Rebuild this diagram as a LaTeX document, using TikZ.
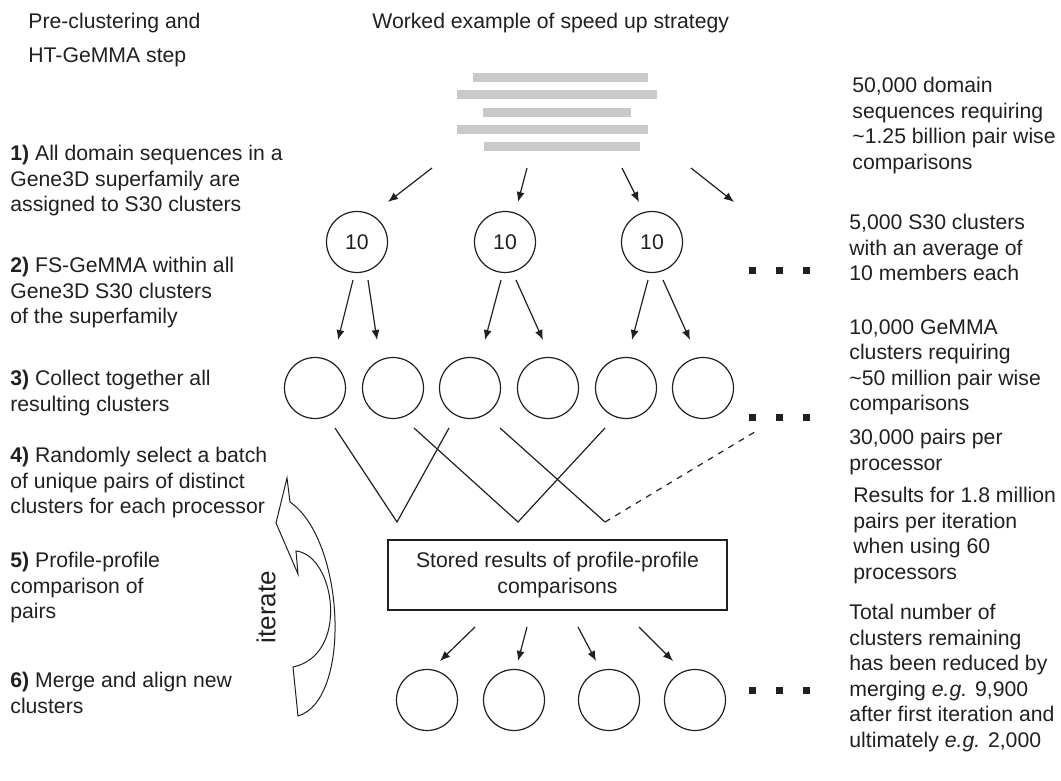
\documentclass[tikz,border=0pt]{standalone}
\usepackage{fontspec}
\setmainfont{Liberation Sans}
\usetikzlibrary{arrows.meta, positioning}
\definecolor{seq_grey}{RGB}{200, 201, 203}
\definecolor{ink_black}{RGB}{35, 31, 32}
\tikzset{
    body_font/.style={
        font=\fontsize{10.6pt}{12.75pt}\selectfont
    },
    step_text/.style={
        body_font,
        anchor=north west,
        inner sep=0pt,
        align=left,
        text=ink_black
    },
    cluster_node/.style={
        circle,
        draw=ink_black,
        line width=0.6pt,
        minimum size=30.5pt,
        inner sep=0pt,
        body_font,
        text=ink_black
    },
    store_node/.style={
        rectangle,
        draw=ink_black,
        line width=0.6pt,
        minimum width=169.5pt,
        minimum height=35pt,
        align=center,
        body_font,
        text=ink_black
    },
    arrow_style/.style={
        -{Latex[length=5pt,width=4pt]},
        line width=0.6pt,
        draw=ink_black
    },
    pair_line/.style={
        line width=0.6pt,
        draw=ink_black
    },
    iterate_arrow/.style={
        draw=ink_black,
        line width=0.5pt,
        fill=white
    }
}

\begin{document}
\begin{tikzpicture}[x=0.5pt, y=-0.5pt]
\useasboundingbox (0,0) rectangle (1061,781);

% Column headings
\node[step_text, font=\fontsize{10.6pt}{17pt}\selectfont] (head_left) at (28,13) {Pre-clustering and\\HT-GeMMA step};
\node[step_text] (head_right) at (372,13) {Worked example of speed up strategy};

% Steps of the method
\node[step_text] (step1) at (10,145) {\textbf{1)} All domain sequences in a\\Gene3D superfamily are\\assigned to S30 clusters};
\node[step_text] (step2) at (10,257) {\textbf{2)} FS-GeMMA within all\\Gene3D S30 clusters\\of the superfamily};
\node[step_text] (step3) at (10,370) {\textbf{3)} Collect together all\\resulting clusters};
\node[step_text] (step4) at (10,447) {\textbf{4)} Randomly select a batch\\of unique pairs of distinct\\clusters for each processor};
\node[step_text] (step5) at (10,552) {\textbf{5)} Profile-profile\\comparison of\\pairs};
\node[step_text] (step6) at (10,672) {\textbf{6)} Merge and align new\\clusters};

% Numbers of the worked example
\node[step_text] (note1) at (852,77) {50,000 domain\\sequences requiring\\\textasciitilde 1.25 billion pair wise\\comparisons};
\node[step_text] (note2) at (849,214) {5,000 S30 clusters\\with an average of\\10 members each};
\node[step_text] (note3) at (849,319) {10,000 GeMMA\\clusters requiring\\\textasciitilde 50 million pair wise\\comparisons};
\node[step_text] (note4) at (849,429) {30,000 pairs per\\processor};
\node[step_text] (note5) at (853,487) {Results for 1.8 million\\pairs per iteration\\when using 60\\processors};
\node[step_text] (note6) at (849,604) {Total number of\\clusters remaining\\has been reduced by\\merging \textit{e.g.} 9,900\\after first iteration and\\ultimately \textit{e.g.} 2,000};

% Domain sequences
\foreach \xa/\xb/\yb in {473/648/73, 457/657/90, 483/631/108, 457/648/125, 484/640/142}
    \fill[seq_grey] (\xa,\yb) rectangle (\xb,\yb+9);

\foreach \xs/\xe [count=\i] in {432/388, 527/518, 622/639, 691/734} {
    \coordinate (seq_out\i) at (\xs,168);
    \coordinate (seq_in\i) at (\xe,202);
    \draw[arrow_style] (seq_out\i) -- (seq_in\i);
}

% S30 clusters
\node[cluster_node] (s30_a) at (357,242) {10};
\node[cluster_node] (s30_b) at (505,242) {10};
\node[cluster_node] (s30_c) at (652,242) {10};

% GeMMA clusters
\foreach \x [count=\i] in {315, 393, 470, 548, 626, 703}
    \node[cluster_node] (gemma\i) at (\x,388) {};

\foreach \xs/\xe [count=\i] in {353/338, 368/377, 501/485, 516/543, 648/632, 663/690} {
    \coordinate (split_out\i) at (\xs,280);
    \coordinate (split_in\i) at (\xe,340);
    \draw[arrow_style] (split_out\i) -- (split_in\i);
}

% Pairs sent to processors
\coordinate (pair_a) at (397,522);
\coordinate (pair_b) at (518,522);
\coordinate (pair_c) at (605,522);
\foreach \x [count=\i] in {335, 449, 414, 605, 500}
    \coordinate (arm\i) at (\x,428);
\coordinate (arm_more) at (758,430);
\draw[pair_line] (arm1) -- (pair_a) -- (arm2);
\draw[pair_line] (arm3) -- (pair_b) -- (arm4);
\draw[pair_line] (arm5) -- (pair_c);
\draw[pair_line, dashed] (pair_c) -- (arm_more);

% Stored results
\node[store_node] (store) at (557.5,575) {Stored results of profile-profile\\comparisons};

% Merged clusters
\foreach \x [count=\i] in {427, 514, 609, 695}
    \node[cluster_node] (merged\i) at (\x,700) {};

\foreach \xs/\xe [count=\i] in {475/440, 527/518, 578/596, 639/673} {
    \coordinate (store_out\i) at (\xs,627);
    \coordinate (store_in\i) at (\xe,661);
    \draw[arrow_style] (store_out\i) -- (store_in\i);
}

% Continuation dots
\foreach \yd in {270, 417, 690}
    \foreach \xd in {752, 779, 806}
        \fill[ink_black] (\xd-3.5,\yd-3.5) rectangle (\xd+3.5,\yd+3.5);

% Iteration arrow
\draw[iterate_arrow] (287,478) -- (276,523) -- (298,574) -- (296,551)
    .. controls (335,555) and (350,655) .. (293,667) -- (298,716)
    .. controls (352,700) and (345,540) .. (290,502) -- cycle;
\node[rotate=90, inner sep=0pt, text=ink_black, font=\fontsize{13pt}{15pt}\selectfont] (iterate) at (266,607) {iterate};

\end{tikzpicture}
\end{document}
